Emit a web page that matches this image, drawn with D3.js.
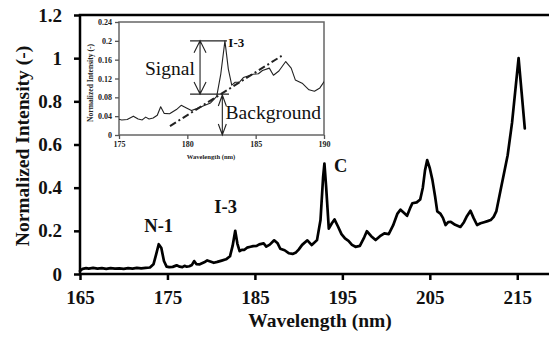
<!DOCTYPE html>
<html><head><meta charset="utf-8">
<script src="https://cdn.jsdelivr.net/npm/d3@7"></script>
<style>
body{margin:0;background:#fff}
svg{display:block}
text{font-family:"Liberation Serif","Times New Roman",serif}
</style>
</head><body>
<svg id="c" width="549" height="337"></svg>
<script>
// ---- data ----
const wavelength = [165.0,165.3,165.7,166.0,166.5,167.0,167.5,168.0,168.5,169.0,169.5,170.0,170.5,171.0,171.5,172.0,172.5,173.0,173.4,173.7,174.0,174.3,174.6,174.9,175.2,175.6,176.05,176.4,176.7,176.95,177.2,177.5,177.8,178.05,178.3,178.7,179.2,179.55,179.9,180.3,180.7,181.2,181.7,182.15,182.45,182.75,183.0,183.25,183.5,183.8,184.1,184.5,184.8,185.2,185.5,186.0,186.3,186.7,187.2,187.6,187.9,188.4,188.9,189.3,189.7,190.0,190.4,191.0,191.5,192.1,192.5,192.8,192.95,193.15,193.45,193.8,194.1,194.5,194.9,195.3,195.7,196.1,196.5,197.0,197.5,197.8,198.3,198.8,199.3,199.8,200.3,200.8,201.3,201.65,202.0,202.4,202.8,203.0,203.5,203.9,204.2,204.45,204.7,205.0,205.3,205.6,205.85,206.2,206.5,206.8,207.1,207.4,207.9,208.5,208.9,209.2,209.65,210.0,210.4,210.8,211.2,211.6,211.96,212.3,212.6,213.1,213.6,213.9,214.4,214.8,215.15,215.5,215.86];
const intensity = [0.014,0.024,0.027,0.025,0.028,0.025,0.027,0.024,0.027,0.025,0.026,0.024,0.027,0.025,0.028,0.026,0.028,0.03,0.045,0.09,0.138,0.12,0.06,0.034,0.032,0.033,0.04,0.034,0.032,0.038,0.034,0.036,0.042,0.06,0.046,0.045,0.054,0.063,0.058,0.052,0.056,0.062,0.068,0.082,0.13,0.2,0.14,0.106,0.112,0.112,0.122,0.126,0.129,0.13,0.137,0.142,0.127,0.136,0.156,0.142,0.117,0.11,0.096,0.093,0.1,0.113,0.135,0.156,0.134,0.157,0.25,0.45,0.512,0.4,0.21,0.235,0.253,0.22,0.185,0.165,0.154,0.135,0.126,0.13,0.17,0.198,0.175,0.157,0.175,0.188,0.185,0.225,0.28,0.298,0.285,0.27,0.31,0.328,0.332,0.345,0.4,0.48,0.528,0.49,0.435,0.36,0.29,0.28,0.26,0.227,0.24,0.242,0.228,0.218,0.24,0.265,0.293,0.26,0.227,0.235,0.24,0.245,0.25,0.265,0.29,0.39,0.49,0.55,0.7,0.86,1.0,0.84,0.675];
const xTicks = [165,175,185,195,205,215];
const yTicks = [0,0.2,0.4,0.6,0.8,1,1.2];
const insetXTicks = [175,180,185,190];
const insetYTicks = [0,0.04,0.08,0.12,0.16,0.2,0.24];
const peakNames = ["N-1","I-3","C"];
const peakWl = [174.0,182.75,192.95];
const peakVal = [0.138,0.2,0.512];

const pts = wavelength.map((w,i)=>({w, v:intensity[i]}));
const fmt = d => String(+d.toFixed(2));
const SERIF = '"Liberation Serif","Times New Roman",serif';
const svg = d3.select("#c");

// ---- main chart ----
const L=80, T=15, B=274;
const x = d3.scaleLinear().domain([165,220]).range([L,561]);
const y = d3.scaleLinear().domain([0,1.2]).range([B,T]);

const gx = svg.append("g").attr("transform",`translate(0,${B})`)
  .call(d3.axisBottom(x).tickValues(xTicks).tickSize(6).tickPadding(11).tickFormat(d=>d));
const gy = svg.append("g").attr("transform",`translate(${L},0)`)
  .call(d3.axisLeft(y).tickValues(yTicks).tickSize(6).tickPadding(12).tickFormat(fmt));
[gx,gy].forEach(g=>{
  g.attr("font-family",SERIF).attr("font-size",19);
  g.select(".domain").remove();
  g.selectAll(".tick line").attr("stroke","#000").attr("stroke-width",2.5);
  g.selectAll(".tick text").attr("font-weight","bold").attr("fill","#111").attr("font-family",SERIF);
});
// frame
svg.append("path").attr("d",`M${L},${T}H549M${L},${B}H549M${L},${T-1.25}V${B+1.25}`)
  .attr("stroke","#000").attr("stroke-width",2.5).attr("fill","none");

const line = d3.line().x(d=>x(d.w)).y(d=>y(d.v));
svg.append("path").datum(pts).attr("d",line)
  .attr("fill","none").attr("stroke","#000").attr("stroke-width",2.7)
  .attr("stroke-linejoin","round").attr("stroke-linecap","round");

// peak labels
const labOff = [[0,-0.056],[-1.1,-0.082],[1.85,0.04]];
peakNames.forEach((n,i)=>{
  svg.append("text").attr("x",x(peakWl[i]+labOff[i][0])).attr("y",y(peakVal[i]-labOff[i][1]))
    .attr("text-anchor","middle").attr("font-size",18.5).attr("font-weight","bold").attr("fill","#111").text(n);
});

// axis titles
svg.append("text").attr("x",320).attr("y",327).attr("text-anchor","middle")
  .attr("font-size",19.5).attr("font-weight","bold").attr("fill","#111").text("Wavelength (nm)");
svg.append("text").attr("transform","translate(29,146) rotate(-90)").attr("text-anchor","middle")
  .attr("font-size",19.5).attr("font-weight","bold").attr("fill","#111").text("Normalized Intensity (-)");

// ---- inset ----
const iL=119, iR=324, iT=22, iB=135;
const ix = d3.scaleLinear().domain([175,190]).range([iL,iR]);
const iy = d3.scaleLinear().domain([0,0.24]).range([iB,iT]);
svg.append("rect").attr("x",iL).attr("y",iT).attr("width",iR-iL).attr("height",iB-iT)
  .attr("fill","#fff").attr("stroke","#666").attr("stroke-width",1.5);
const igx = svg.append("g").attr("transform",`translate(0,${iB})`)
  .call(d3.axisBottom(ix).tickValues(insetXTicks).tickSize(4).tickPadding(2.5).tickFormat(d=>d));
const igy = svg.append("g").attr("transform",`translate(${iL},0)`)
  .call(d3.axisLeft(iy).tickValues(insetYTicks).tickSize(4).tickPadding(3).tickFormat(fmt));
[igx,igy].forEach(g=>{
  g.attr("font-family",SERIF).attr("font-size",8);
  g.select(".domain").remove();
  g.selectAll(".tick line").attr("stroke","#555").attr("stroke-width",1.3);
  g.selectAll(".tick text").attr("font-weight","bold").attr("fill","#222").attr("font-family",SERIF);
});
svg.append("text").attr("x",211).attr("y",159).attr("text-anchor","middle")
  .attr("font-size",6.6).attr("font-weight","bold").attr("fill","#222").text("Wavelength (nm)");
svg.append("text").attr("transform","translate(93,83) rotate(-90)").attr("text-anchor","middle")
  .attr("font-size",7.6).attr("font-weight","bold").attr("fill","#222").text("Normalized Intensity (-)");

svg.append("clipPath").attr("id","ic").append("rect").attr("x",iL).attr("y",iT).attr("width",iR-iL).attr("height",iB-iT);
const iline = d3.line().x(d=>ix(d.w)).y(d=>iy(d.v));
svg.append("path").datum(pts.filter(d=>d.w>=174.9&&d.w<=190.4)).attr("d",iline).attr("clip-path","url(#ic)")
  .attr("fill","none").attr("stroke","#222").attr("stroke-width",1.1).attr("stroke-linejoin","round");

// annotations in inset
const ink="#222";
svg.append("line").attr("x1",ix(178.73)).attr("y1",iy(0.019)).attr("x2",ix(186.9)).attr("y2",iy(0.168))
  .attr("stroke",ink).attr("stroke-width",2).attr("stroke-dasharray","7,3,2,3");
svg.append("line").attr("x1",ix(180.2)).attr("x2",ix(182.9)).attr("y1",iy(0.2)).attr("y2",iy(0.2)).attr("stroke",ink).attr("stroke-width",1.2);
svg.append("line").attr("x1",ix(180.2)).attr("x2",ix(183.05)).attr("y1",iy(0.087)).attr("y2",iy(0.087)).attr("stroke",ink).attr("stroke-width",1.2);
function dblArrow(xp, y1, y2, hw, hh){
  const p = `M${xp},${y1}V${y2}M${xp-hw},${y1+hh}L${xp},${y1}L${xp+hw},${y1+hh}M${xp-hw},${y2-hh}L${xp},${y2}L${xp+hw},${y2-hh}`;
  svg.append("path").attr("d",p).attr("fill","none").attr("stroke",ink).attr("stroke-width",1.1);
}
dblArrow(ix(180.93), iy(0.2), iy(0.087), 6, 12);
dblArrow(ix(182.56), iy(0.085), iy(0), 4, 11);
svg.append("text").attr("x",ix(180.55)).attr("y",75).attr("text-anchor","end")
  .attr("font-size",19.5).attr("fill","#111").text("Signal");
svg.append("text").attr("x",ix(182.8)).attr("y",119).attr("text-anchor","start")
  .attr("font-size",19.5).attr("fill","#111").text("Background");
svg.append("text").attr("x",ix(183.0)).attr("y",46.5).attr("text-anchor","start")
  .attr("font-size",13).attr("font-weight","bold").attr("fill","#111").text("I-3");
</script>
</body></html>
